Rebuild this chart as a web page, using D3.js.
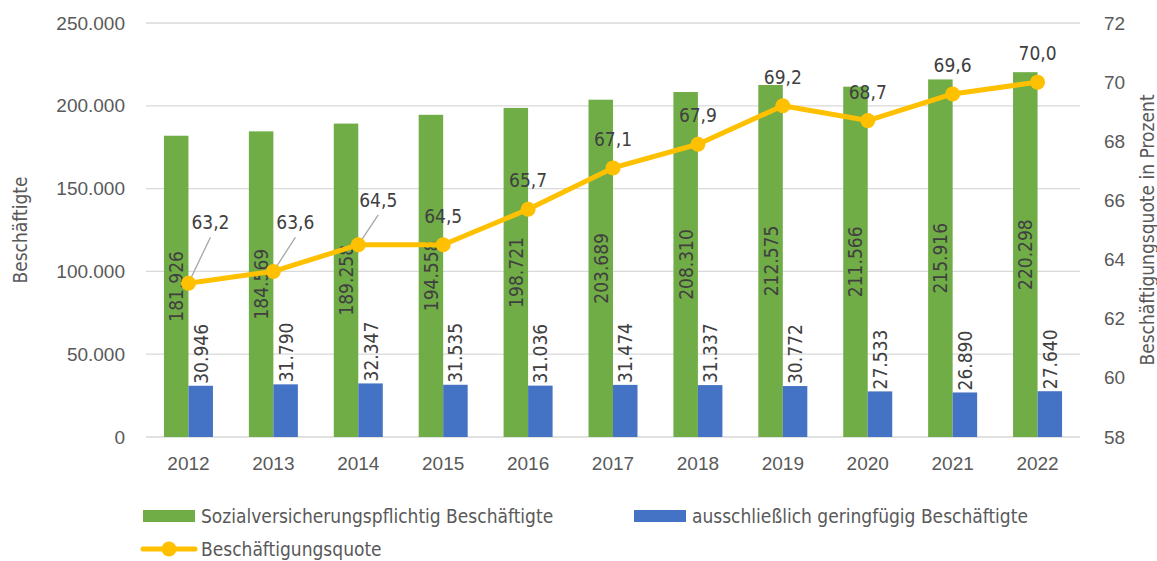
<!DOCTYPE html>
<html>
<head>
<meta charset="utf-8">
<script src="https://cdn.jsdelivr.net/npm/d3@7"></script>
<style>
  body { margin: 0; background: #fff; }
  svg { font-family: "Liberation Sans Narrow", "DejaVu Sans Condensed", sans-serif; }
</style>
</head>
<body>
<svg id="chart"></svg>
<script>
const width = 1157;
const height = 561;

// chart data
const years = ["2012", "2013", "2014", "2015", "2016", "2017", "2018", "2019", "2020", "2021", "2022"];
const svpBeschaeftigte = [181926, 184569, 189258, 194558, 198721, 203689, 208310, 212575, 211566, 215916, 220298];
const geringfuegig = [30946, 31790, 32347, 31535, 31036, 31474, 31337, 30772, 27533, 26890, 27640];
const quote = [63.2, 63.6, 64.5, 64.5, 65.7, 67.1, 67.9, 69.2, 68.7, 69.6, 70.0];
const leftTicks = [0, 50000, 100000, 150000, 200000, 250000];
const rightTicks = [58, 60, 62, 64, 66, 68, 70, 72];

// labels that were moved away from the line (with a leader line)
const movedLabels = { "2012": [22, -61], "2013": [22, -49], "2014": [20, -45] };

const green = "#70AD47", blue = "#4472C4", yellow = "#FFC000";
const axisColor = "#595959", labelColor = "#404040", gridColor = "#d9d9d9";
const fontSize = 19;

const de = d3.formatLocale({ decimal: ",", thousands: ".", grouping: [3], currency: ["", " €"] });
const fmtInt = de.format(",d");
const fmtPct = de.format(".1f");

const margin = { left: 146, right: 77, top: 23, bottom: 124 };
const plotW = width - margin.left - margin.right;
const plotH = height - margin.top - margin.bottom;

const svg = d3.select("#chart").attr("width", width).attr("height", height);
const g = svg.append("g").attr("transform", `translate(${margin.left},${margin.top})`);

const x = d3.scaleBand().domain(years).range([0, plotW]);
const yLeft = d3.scaleLinear().domain([0, 250000]).range([plotH, 0]);
const yRight = d3.scaleLinear().domain([58, 72]).range([plotH, 0]);
const barW = 24.5;

// gridlines
g.append("g")
  .selectAll("line")
  .data(leftTicks)
  .join("line")
  .attr("x1", 0).attr("x2", plotW)
  .attr("y1", d => yLeft(d)).attr("y2", d => yLeft(d))
  .attr("stroke", gridColor).attr("stroke-width", 1.3);

// left axis
const leftAxis = g.append("g")
  .call(d3.axisLeft(yLeft).tickValues(leftTicks).tickFormat(d => fmtInt(d)).tickSize(0).tickPadding(21));
leftAxis.select(".domain").remove();
leftAxis.selectAll("text").attr("fill", axisColor).style("font-size", fontSize + "px");

// right axis
const rightAxis = g.append("g")
  .attr("transform", `translate(${plotW},0)`)
  .call(d3.axisRight(yRight).tickValues(rightTicks).tickSize(0).tickPadding(24));
rightAxis.select(".domain").remove();
rightAxis.selectAll("text").attr("fill", axisColor).style("font-size", fontSize + "px");

// x axis
const xAxis = g.append("g")
  .attr("transform", `translate(0,${plotH})`)
  .call(d3.axisBottom(x).tickSize(0).tickPadding(20));
xAxis.select(".domain").remove();
xAxis.selectAll("text").attr("fill", axisColor).style("font-size", fontSize + "px");

// axis titles
svg.append("text")
  .attr("transform", `translate(20,230) rotate(-90)`)
  .attr("text-anchor", "middle").attr("dominant-baseline", "central")
  .attr("fill", axisColor).style("font-size", fontSize + "px")
  .text("Beschäftigte");

svg.append("text")
  .attr("transform", `translate(1147,230) rotate(-90)`)
  .attr("text-anchor", "middle").attr("dominant-baseline", "central")
  .attr("fill", axisColor).style("font-size", fontSize + "px")
  .text("Beschäftigungsquote in Prozent");

const cx = d => x(d) + x.bandwidth() / 2;

// bars
g.selectAll(".bar-green")
  .data(years)
  .join("rect")
  .attr("class", "bar-green")
  .attr("x", d => cx(d) - barW)
  .attr("width", barW)
  .attr("y", (d, i) => yLeft(svpBeschaeftigte[i]))
  .attr("height", (d, i) => plotH - yLeft(svpBeschaeftigte[i]))
  .attr("fill", green);

g.selectAll(".bar-blue")
  .data(years)
  .join("rect")
  .attr("class", "bar-blue")
  .attr("x", d => cx(d))
  .attr("width", barW)
  .attr("y", (d, i) => yLeft(geringfuegig[i]))
  .attr("height", (d, i) => plotH - yLeft(geringfuegig[i]))
  .attr("fill", blue);

// bar labels
g.selectAll(".lbl-green")
  .data(years)
  .join("text")
  .attr("class", "lbl-green")
  .attr("transform", (d, i) => `translate(${cx(d) - barW / 2},${(yLeft(svpBeschaeftigte[i]) + plotH) / 2}) rotate(-90)`)
  .attr("text-anchor", "middle").attr("dominant-baseline", "central")
  .attr("fill", labelColor).style("font-size", fontSize + "px")
  .text((d, i) => fmtInt(svpBeschaeftigte[i]));

g.selectAll(".lbl-blue")
  .data(years)
  .join("text")
  .attr("class", "lbl-blue")
  .attr("transform", (d, i) => `translate(${cx(d) + barW / 2},${yLeft(geringfuegig[i]) - 2}) rotate(-90)`)
  .attr("text-anchor", "start").attr("dominant-baseline", "central")
  .attr("fill", labelColor).style("font-size", fontSize + "px")
  .text((d, i) => fmtInt(geringfuegig[i]));

// leader lines for moved labels
g.selectAll(".leader")
  .data(years.filter(d => movedLabels[d]))
  .join("line")
  .attr("class", "leader")
  .attr("x1", d => cx(d)).attr("y1", d => yRight(quote[years.indexOf(d)]))
  .attr("x2", d => cx(d) + movedLabels[d][0])
  .attr("y2", d => yRight(quote[years.indexOf(d)]) + movedLabels[d][1] + 15)
  .attr("stroke", "#a6a6a6").attr("stroke-width", 1.3);

// line
const line = d3.line()
  .x((d, i) => cx(years[i]))
  .y(d => yRight(d));

g.append("path")
  .datum(quote)
  .attr("d", line)
  .attr("fill", "none")
  .attr("stroke", yellow)
  .attr("stroke-width", 5)
  .attr("stroke-linejoin", "round");

g.selectAll(".dot")
  .data(quote)
  .join("circle")
  .attr("class", "dot")
  .attr("cx", (d, i) => cx(years[i]))
  .attr("cy", d => yRight(d))
  .attr("r", 7.5)
  .attr("fill", yellow);

g.selectAll(".lbl-quote")
  .data(quote)
  .join("text")
  .attr("class", "lbl-quote")
  .attr("x", (d, i) => cx(years[i]) + (movedLabels[years[i]] ? movedLabels[years[i]][0] : 0))
  .attr("y", (d, i) => yRight(d) + (movedLabels[years[i]] ? movedLabels[years[i]][1] : -29))
  .attr("text-anchor", "middle").attr("dominant-baseline", "central")
  .attr("fill", labelColor).style("font-size", fontSize + "px")
  .text(d => fmtPct(d));

// legend
const legendItems = [
  { label: "Sozialversicherungspflichtig Beschäftigte", type: "bar", color: green, x: 143, y: 516 },
  { label: "ausschließlich geringfügig Beschäftigte", type: "bar", color: blue, x: 634, y: 516 },
  { label: "Beschäftigungsquote", type: "line", color: yellow, x: 143, y: 549 }
];

const legend = svg.append("g");
legendItems.forEach(item => {
  const lg = legend.append("g").attr("transform", `translate(${item.x},${item.y})`);
  if (item.type === "bar") {
    lg.append("rect").attr("x", 0).attr("y", -6).attr("width", 52).attr("height", 12).attr("fill", item.color);
  } else {
    lg.append("line").attr("x1", 0).attr("x2", 52).attr("y1", 0).attr("y2", 0)
      .attr("stroke", item.color).attr("stroke-width", 5).attr("stroke-linecap", "round");
    lg.append("circle").attr("cx", 26).attr("cy", 0).attr("r", 7.5).attr("fill", item.color);
  }
  lg.append("text")
    .attr("x", 58).attr("y", 0)
    .attr("dominant-baseline", "central")
    .attr("fill", axisColor).style("font-size", fontSize + "px")
    .text(item.label);
});
</script>
</body>
</html>
